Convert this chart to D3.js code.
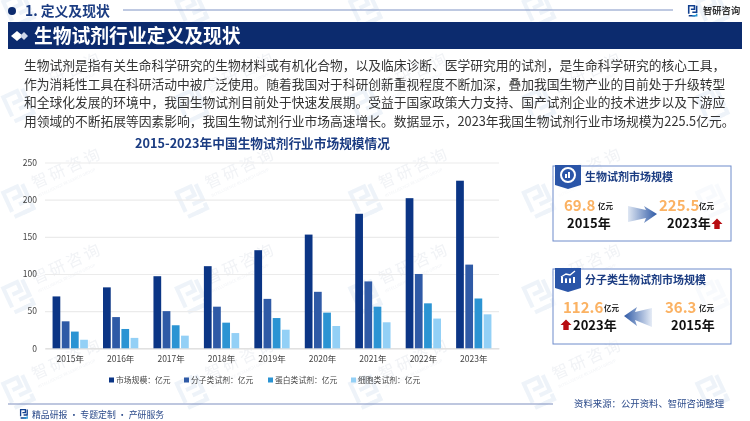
<!DOCTYPE html>
<html>
<head>
<meta charset="utf-8">
<script src="https://cdn.jsdelivr.net/npm/d3@7"></script>
<style>
  html, body { margin: 0; padding: 0; background: #fff; }
  svg { display: block; }
  text { font-family: "Noto Sans CJK SC", "Noto Sans", sans-serif; }
</style>
</head>
<body>
<svg width="750" height="421"></svg>
<script>
// chart data
const years = ["2015年", "2016年", "2017年", "2018年", "2019年", "2020年", "2021年", "2022年", "2023年"];
const seriesNames = ["市场规模：亿元", "分子类试剂：亿元", "蛋白类试剂：亿元", "细胞类试剂：亿元"];
const marketSize = [69.8, 82, 97, 110.5, 132, 153, 181, 202, 225.5];
const molecular = [36.3, 42, 50, 56, 66.5, 76, 90, 100, 112.6];
const protein = [22.5, 26, 31, 34.5, 40.7, 48, 56, 60.5, 67];
const cell = [11.5, 14, 17, 20.5, 25, 30, 35, 40, 45.7];
const yTicks = [0, 50, 100, 150, 200, 250];
const seriesColors = ["#0b3585", "#2f5aa6", "#2b94d3", "#93d0f6"];

const bodyLines = [
  "生物试剂是指有关生命科学研究的生物材料或有机化合物，以及临床诊断、医学研究用的试剂，是生命科学研究的核心工具，",
  "作为消耗性工具在科研活动中被广泛使用。随着我国对于科研创新重视程度不断加深，叠加我国生物产业的目前处于升级转型",
  "和全球化发展的环境中，我国生物试剂目前处于快速发展期。受益于国家政策大力支持、国产试剂企业的技术进步以及下游应",
  "用领域的不断拓展等因素影响，我国生物试剂行业市场高速增长。数据显示，2023年我国生物试剂行业市场规模为225.5亿元。"
];

const svg = d3.select("svg");
const navy = "#0c2b6e";
const titleBlue = "#1b3c82";

const defs = svg.append("defs");
const gradRight = defs.append("linearGradient").attr("id", "fadeRight");
gradRight.append("stop").attr("offset", "0").attr("stop-color", "#dfe7f3");
gradRight.append("stop").attr("offset", "1").attr("stop-color", "#2f5aa6");
const gradLeft = defs.append("linearGradient").attr("id", "fadeLeft");
gradLeft.append("stop").attr("offset", "0").attr("stop-color", "#2f5aa6");
gradLeft.append("stop").attr("offset", "1").attr("stop-color", "#e6ecf6");

// the little company mark, used in header, footer and watermark
function logo(g, x, y, s, c1, c2) {
  const m = g.append("g").attr("transform", `translate(${x},${y}) scale(${s})`)
    .attr("fill", "none").attr("stroke-width", 2.2);
  m.append("path").attr("d", "M1 12 V1 H9 V6 H4").attr("stroke", c1);
  m.append("path").attr("d", "M1 15 H10 M12 1 V10 H6").attr("stroke", c1);
  m.append("path").attr("d", "M12 12 V15 H6").attr("stroke", c2);
}

// watermark tiles, the words only where they stay inside the page
const wm = svg.append("g").attr("opacity", 0.6);
d3.range(5).forEach(i => {
  d3.range(5).forEach(j => {
    const x = 5 + i * 173.5, y = 10 + j * 95.5;
    logo(wm.append("g").attr("transform", `rotate(-25 ${x} ${y})`), x, y - 10, 1.9, "#e3ecf5", "#e3ecf5");
    if (j === 0 || i === 4) return;
    const t = wm.append("g").attr("transform", `translate(${x + 30},${y - 12}) rotate(-25)`);
    t.append("text").attr("font-size", 16).attr("letter-spacing", 3).attr("fill", "#e8ebf0").text("智研咨询");
    t.append("text").attr("y", 9).attr("font-size", 4).attr("fill", "#e8ebf0").text("INTELLIGENCE RESEARCH GROUP");
  });
});

// page header
svg.append("circle").attr("cx", 12).attr("cy", 11).attr("r", 4).attr("fill", navy);
svg.append("text").attr("x", 25).attr("y", 16).attr("font-size", 13.8).attr("font-weight", 700)
  .attr("fill", titleBlue).text("1. 定义及现状");
svg.append("line").attr("x1", 123).attr("x2", 673).attr("y1", 10).attr("y2", 10)
  .attr("stroke", "#7f93c4").attr("stroke-width", 1);
logo(svg, 688, 5, 0.72, "#12408f", "#2b94d3");
svg.append("text").attr("x", 703).attr("y", 14).attr("font-size", 9.3).attr("font-weight", 700)
  .attr("fill", "#333").text("智研咨询");

svg.append("rect").attr("x", 8).attr("y", 22).attr("width", 734).attr("height", 27).attr("fill", navy);
svg.append("path").attr("d", "M11 36 L17 31 L23 36 L17 41 Z").attr("fill", "#fff");
svg.append("path").attr("d", "M20 36 L24 32 L28 36 L24 40 Z").attr("fill", "#cfd8ea");
svg.append("text").attr("x", 34).attr("y", 42.5).attr("font-size", 18.8).attr("font-weight", 700)
  .attr("fill", "#fff").text("生物试剂行业定义及现状");

svg.append("g").selectAll("text").data(bodyLines).enter().append("text")
  .attr("x", 24)
  .attr("y", (d, i) => 70 + i * 18.7)
  .attr("font-size", 12.75)
  .attr("fill", "#333")
  .text(d => d);

// chart
svg.append("text").attr("x", 135).attr("y", 147.5).attr("font-size", 12.7).attr("font-weight", 700)
  .attr("fill", titleBlue).text("2015-2023年中国生物试剂行业市场规模情况");

const y = d3.scaleLinear().domain([0, 250]).range([348.3, 162.5]);
const x = d3.scaleBand().domain(years).range([45, 499]).paddingInner(0.3).paddingOuter(0.15);
const x1 = d3.scaleBand().domain(d3.range(4)).range([0, x.bandwidth()]).paddingInner(0.16);

const yAxis = svg.append("g").attr("transform", "translate(45,0)")
  .call(d3.axisLeft(y).tickValues(yTicks).tickSize(-454).tickPadding(8));
yAxis.select(".domain").remove();
yAxis.selectAll("line").attr("stroke", "#ebebeb").attr("stroke-width", 1.2);
yAxis.selectAll("text").attr("font-size", 8.5).attr("fill", "#444");

const xAxis = svg.append("g").attr("transform", "translate(0,348.3)")
  .call(d3.axisBottom(x).tickSize(0).tickPadding(8));
xAxis.select(".domain").attr("stroke", "#dcdcdc");
xAxis.selectAll("text").attr("font-size", 8.5).attr("fill", "#444");

[marketSize, molecular, protein, cell].forEach((values, k) => {
  svg.append("g").selectAll("rect").data(values).enter().append("rect")
    .attr("x", (d, i) => x(years[i]) + x1(k))
    .attr("y", d => y(d))
    .attr("width", x1.bandwidth())
    .attr("height", d => y(0) - y(d))
    .attr("fill", seriesColors[k]);
});

// legend
const legendX = [109, 184, 268, 351];
const legend = svg.append("g").selectAll("g").data(seriesNames).enter().append("g")
  .attr("transform", (d, i) => `translate(${legendX[i]},380)`);
legend.append("rect").attr("y", -2.5).attr("width", 5).attr("height", 5).attr("fill", (d, i) => seriesColors[i]);
legend.append("text").attr("x", 7).attr("y", 3).attr("font-size", 7.8).attr("fill", "#444").text(d => d);

// stat panels
function panel(top, title, ribbonIcon) {
  const g = svg.append("g");
  g.append("rect").attr("x", 553).attr("y", top).attr("width", 178).attr("height", 75)
    .attr("fill", "#fff").attr("fill-opacity", 0.6).attr("stroke", "#6f8ccb").attr("stroke-width", 1);
  g.append("path").attr("d", `M555 ${top - 1} H581 V${top + 19} L568 ${top + 23} L555 ${top + 19} Z`).attr("fill", "#2a55a8");
  ribbonIcon(g, 568, top + 9);
  g.append("text").attr("x", 585).attr("y", top + 15).attr("font-size", 11)
    .attr("font-weight", 700).attr("fill", titleBlue).text(title);
}
function num(x0, yy, s) {
  svg.append("text").attr("x", x0).attr("y", yy).attr("font-size", 15).attr("font-weight", 700)
    .attr("font-family", "Noto Sans, sans-serif").attr("fill", "#fbb263").text(s);
}
function unit(x0, yy) {
  svg.append("text").attr("x", x0).attr("y", yy).attr("font-size", 7.5).attr("font-weight", 700)
    .attr("fill", "#222").text("亿元");
}
function yearLabel(x0, yy, s) {
  svg.append("text").attr("x", x0).attr("y", yy).attr("font-size", 13).attr("font-weight", 700)
    .attr("fill", "#111").text(s);
}
function redUp(cx, cy) {
  svg.append("path").attr("d", `M${cx} ${cy - 5.5} L${cx + 5.5} ${cy} H${cx + 2.7} V${cy + 5} H${cx - 2.7} V${cy} H${cx - 5.5} Z`)
    .attr("fill", "#b80d12");
}

panel(166, "生物试剂市场规模", (g, cx, cy) => {
  g.append("circle").attr("cx", cx).attr("cy", cy).attr("r", 7).attr("fill", "none").attr("stroke", "#fff").attr("stroke-width", 2);
  g.append("rect").attr("x", cx - 3).attr("y", cy - 1).attr("width", 2).attr("height", 4).attr("fill", "#fff");
  g.append("rect").attr("x", cx).attr("y", cy - 3).attr("width", 2).attr("height", 6).attr("fill", "#fff");
});
num(564, 210.5, "69.8"); unit(598, 208.5);
yearLabel(567, 228, "2015年");
svg.append("path").attr("d", "M628 206 L646 210 L644 206 L657 214 L644 223 L646 218 L628 222 Z").attr("fill", "url(#fadeRight)");
num(659, 210.5, "225.5"); unit(699, 208.5);
yearLabel(667, 228, "2023年");
redUp(717, 224);

panel(269, "分子类生物试剂市场规模", (g, cx, cy) => {
  g.append("path").attr("d", `M${cx - 7} ${cy - 1} L${cx - 2} ${cy - 4} L${cx + 2} ${cy - 3} L${cx + 7} ${cy - 7}`)
    .attr("fill", "none").attr("stroke", "#fff").attr("stroke-width", 1.3);
  [-6, -2, 2, 6].forEach(d => g.append("rect").attr("x", cx + d - 1).attr("y", cy + 1 - Math.abs(d) / 3)
    .attr("width", 2).attr("height", 4 + Math.abs(d) / 3).attr("fill", "#fff"));
});
num(563, 312.5, "112.6"); unit(604, 311);
redUp(566, 325);
yearLabel(573, 330, "2023年");
svg.append("path").attr("d", "M624 316 L637 307 L635 312 L652 308 L652 327 L635 320 L637 326 Z").attr("fill", "url(#fadeLeft)");
num(665, 312.5, "36.3"); unit(699, 311);
yearLabel(671, 330, "2015年");

// footer
svg.append("line").attr("x1", 8).attr("x2", 553).attr("y1", 404).attr("y2", 404)
  .attr("stroke", "#7f8fbf").attr("stroke-width", 1.2);
logo(svg, 20, 409, 0.6, "#12408f", "#2b94d3");
svg.append("text").attr("x", 32).attr("y", 418).attr("font-size", 8.9).attr("fill", "#2b4a8a")
  .text("精品研报 · 专题定制 · 产研服务");
svg.append("text").attr("x", 574).attr("y", 407).attr("font-size", 9.4).attr("fill", "#2b4a8a")
  .text("资料来源：公开资料、智研咨询整理");
</script>
</body>
</html>
